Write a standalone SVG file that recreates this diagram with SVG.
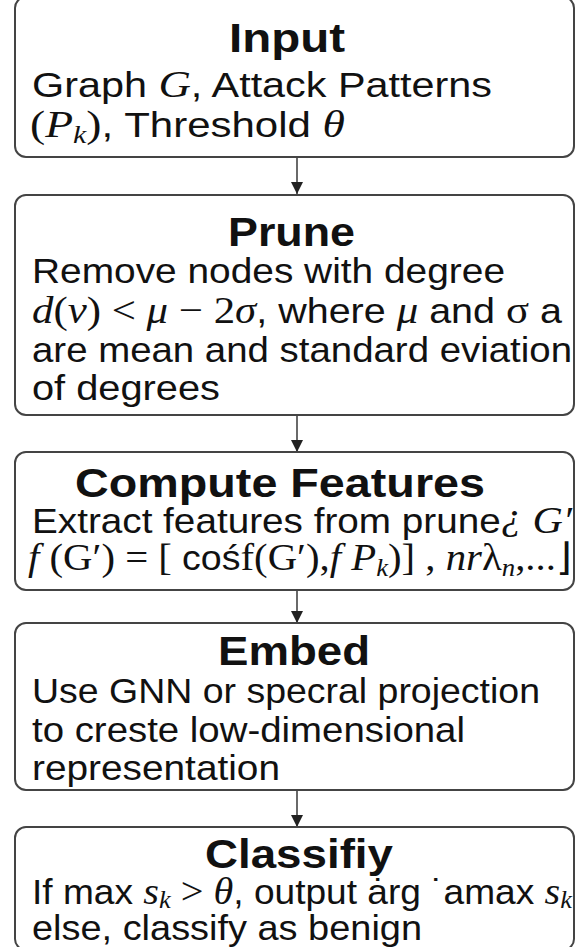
<svg xmlns="http://www.w3.org/2000/svg" width="576" height="947" viewBox="0 0 576 947">
<style>
.box{fill:#fff;stroke:#444;stroke-width:2}
.t{font-family:"Liberation Sans",Arial,sans-serif;font-weight:bold;font-size:41px;fill:#111}
.b{font-family:"Liberation Sans",Arial,sans-serif;font-size:35px;fill:#111}
.m{font-family:"Liberation Serif","Times New Roman",serif;font-style:italic;font-size:38px}
.s{font-family:"Liberation Serif","Times New Roman",serif;font-size:38px}
.sub{font-family:"Liberation Serif","Times New Roman",serif;font-style:italic;font-size:25px}
.edge{stroke:#444;stroke-width:1.6;fill:none}
</style>
<defs>
<marker id="ah" markerUnits="userSpaceOnUse" markerWidth="12" markerHeight="12" refX="12" refY="6" orient="auto">
<path d="M0,0 L12,6 L0,12 z" fill="#222"/>
</marker>
</defs>
<rect width="576" height="947" fill="#fff"/>
<g id="connectors">
<line class="edge" x1="297" y1="157" x2="297" y2="194" marker-end="url(#ah)"/>
<line class="edge" x1="297" y1="415" x2="297" y2="452" marker-end="url(#ah)"/>
<line class="edge" x1="297" y1="590" x2="297" y2="623" marker-end="url(#ah)"/>
<line class="edge" x1="297" y1="790" x2="297" y2="827" marker-end="url(#ah)"/>
</g>
<g id="input">
<rect class="box" x="15" y="-3" width="559" height="160" rx="11"/>
<text class="t" x="229" y="52" textLength="116" lengthAdjust="spacingAndGlyphs">Input</text>
<text class="b" x="32" y="97" textLength="460" lengthAdjust="spacingAndGlyphs">Graph <tspan class="m">G</tspan>, Attack Patterns</text>
<text class="b" x="30" y="137" textLength="315" lengthAdjust="spacingAndGlyphs"><tspan class="s">(</tspan><tspan class="m">P</tspan><tspan class="sub" dy="6">k</tspan><tspan class="s" dy="-6">)</tspan>, Threshold <tspan class="m">θ</tspan></text>
</g>
<g id="prune">
<rect class="box" x="15" y="195" width="559" height="220" rx="11"/>
<text class="t" x="228" y="246" textLength="127" lengthAdjust="spacingAndGlyphs">Prune</text>
<text class="b" x="32" y="283" textLength="473" lengthAdjust="spacingAndGlyphs">Remove nodes with degree</text>
<text class="b" x="32" y="323" textLength="530" lengthAdjust="spacingAndGlyphs"><tspan class="m">d</tspan><tspan class="s">(</tspan><tspan class="m">v</tspan><tspan class="s">) &lt; </tspan><tspan class="m">μ</tspan><tspan class="s"> − 2</tspan><tspan class="m">σ</tspan>, where <tspan class="m">μ</tspan> and <tspan class="s">σ</tspan> a</text>
<text class="b" x="32" y="362" textLength="540" lengthAdjust="spacingAndGlyphs">are mean and standard eviation</text>
<text class="b" x="32" y="400" textLength="188" lengthAdjust="spacingAndGlyphs">of degrees</text>
</g>
<g id="compute">
<rect class="box" x="15" y="452" width="559" height="138" rx="11"/>
<text class="t" x="75" y="497" textLength="410" lengthAdjust="spacingAndGlyphs">Compute Features</text>
<text class="b" x="32" y="533" textLength="540" lengthAdjust="spacingAndGlyphs">Extract features from prune<tspan class="m" dy="-4">¿</tspan> <tspan class="m" dy="4">G′</tspan></text>
<text class="b" x="28" y="570" textLength="544" lengthAdjust="spacingAndGlyphs"><tspan class="m">f</tspan><tspan class="s"> (G′) = [ </tspan>coś<tspan class="s">f(G′),</tspan><tspan class="m">f P</tspan><tspan class="sub" dy="6">k</tspan><tspan class="s" dy="-6">)] , </tspan><tspan class="m">nr</tspan><tspan class="s">λ</tspan><tspan class="sub" dy="6">n</tspan><tspan class="s" dy="-6">,...⌋</tspan></text>
</g>
<g id="embed">
<rect class="box" x="15" y="623" width="559" height="167" rx="11"/>
<text class="t" x="218" y="665" textLength="152" lengthAdjust="spacingAndGlyphs">Embed</text>
<text class="b" x="32" y="703" textLength="508" lengthAdjust="spacingAndGlyphs">Use GNN or specral projection</text>
<text class="b" x="32" y="742" textLength="433" lengthAdjust="spacingAndGlyphs">to creste low-dimensional</text>
<text class="b" x="32" y="780" textLength="248" lengthAdjust="spacingAndGlyphs">representation</text>
</g>
<g id="classify">
<rect class="box" x="15" y="827" width="559" height="123" rx="11"/>
<text class="t" x="205" y="868" textLength="188" lengthAdjust="spacingAndGlyphs">Classifiy</text>
<text class="b" x="32" y="904" textLength="540" lengthAdjust="spacingAndGlyphs">If max <tspan class="m">s</tspan><tspan class="sub" dy="4">k</tspan><tspan class="s" dy="-4"> &gt; </tspan><tspan class="m">θ</tspan>, output  ȧrg ˙amax <tspan class="m">s</tspan><tspan class="sub" dy="4">k</tspan></text>
<text class="b" x="32" y="940" textLength="390" lengthAdjust="spacingAndGlyphs">else, classify as benign</text>
</g>
</svg>
